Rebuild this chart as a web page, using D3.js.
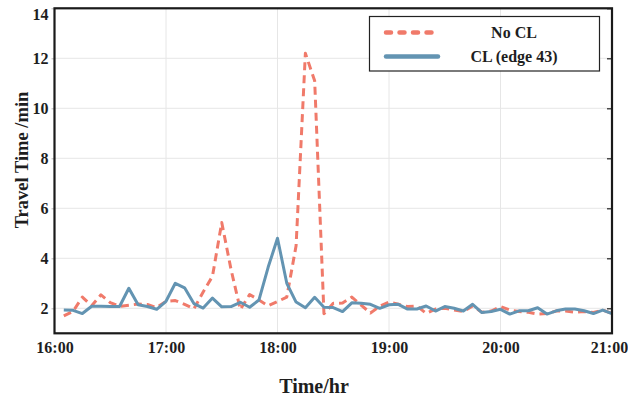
<!DOCTYPE html>
<html>
<head>
<meta charset="utf-8">
<script src="https://cdn.jsdelivr.net/npm/d3@7"></script>
<style>
  html, body { margin: 0; padding: 0; background: #fff; }
  svg { display: block; }
  text { font-family: "Liberation Serif", "Times New Roman", serif; font-weight: bold; fill: #1e1e1e; }
</style>
</head>
<body>
<svg id="chart" width="628" height="403"></svg>
<script>
// Sample times, every 5 minutes
const times = [
  "16:05","16:10","16:15","16:20","16:25","16:30","16:35","16:40","16:45","16:50","16:55","17:00",
  "17:05","17:10","17:15","17:20","17:25","17:30","17:35","17:40","17:45","17:50","17:55","18:00",
  "18:05","18:10","18:15","18:20","18:25","18:30","18:35","18:40","18:45","18:50","18:55","19:00",
  "19:05","19:10","19:15","19:20","19:25","19:30","19:35","19:40","19:45","19:50","19:55","20:00",
  "20:05","20:10","20:15","20:20","20:25","20:30","20:35","20:40","20:45","20:50","20:55","21:00"
];

// Travel time without control (minutes)
const noCL = [
  1.70, 1.88, 2.45, 2.10, 2.54, 2.23, 2.08, 2.12, 2.17, 2.15, 2.03, 2.28,
  2.31, 2.16, 1.98, 2.65, 3.28, 5.43, 3.55, 1.95, 2.55, 2.33, 2.10, 2.27,
  2.45, 4.50, 12.20, 11.10, 1.78, 2.20, 2.21, 2.45, 2.13, 1.81, 2.08, 2.25,
  2.16, 2.07, 2.09, 1.80, 1.97, 2.00, 1.93, 1.87, 2.09, 1.84, 1.89, 2.07,
  1.93, 1.87, 1.84, 1.77, 1.79, 1.89, 1.89, 1.84, 1.87, 1.83, 1.93, 1.79
];

// Travel time with control on edge 43 (minutes)
const withCL = [
  1.93, 1.92, 1.79, 2.08, 2.08, 2.07, 2.07, 2.80, 2.14, 2.07, 1.96, 2.28,
  3.00, 2.82, 2.19, 2.01, 2.41, 2.06, 2.07, 2.24, 2.04, 2.33, 3.65, 4.80,
  3.00, 2.25, 2.02, 2.44, 2.04, 2.03, 1.87, 2.22, 2.20, 2.16, 2.00, 2.14,
  2.16, 1.97, 1.97, 2.09, 1.89, 2.07, 2.00, 1.89, 2.16, 1.83, 1.87, 1.96,
  1.77, 1.90, 1.90, 2.02, 1.77, 1.90, 1.97, 1.97, 1.90, 1.79, 1.93, 1.79
];

const xTickLabels = ["16:00", "17:00", "18:00", "19:00", "20:00", "21:00"];
const yTickValues = [2, 4, 6, 8, 10, 12, 14];

const seriesNames = ["No CL", "CL (edge 43)"];
const seriesColors = ["#f07a6a", "#6394b2"];

const toMin = s => { const [h, m] = s.split(":").map(Number); return h * 60 + m; };

const svg = d3.select("#chart");
const W = 628, H = 403;
const x0 = 54.5, x1 = 612;
const y0 = 8.3, y1 = 333.3;

const x = d3.scaleLinear().domain([toMin("16:00"), toMin("21:00")]).range([x0, x1]);
const y = d3.scaleLinear().domain([1, 14]).range([y1, y0]);

// Grid
const grid = svg.append("g");
grid.selectAll("line.gx").data(xTickLabels).join("line")
  .attr("x1", d => x(toMin(d))).attr("x2", d => x(toMin(d)))
  .attr("y1", y0).attr("y2", y1)
  .attr("stroke", "#e6e6e6").attr("stroke-width", 1);
grid.selectAll("line.gy").data(yTickValues).join("line")
  .attr("x1", x0).attr("x2", x1)
  .attr("y1", d => y(d)).attr("y2", d => y(d))
  .attr("stroke", "#e6e6e6").attr("stroke-width", 1);

// Axes
const xMins = xTickLabels.map(toMin);
const xAxis = d3.axisBottom(x)
  .tickValues(xMins)
  .tickFormat(d => xTickLabels[xMins.indexOf(d)])
  .tickSize(0).tickPadding(8);
const gx = svg.append("g").attr("transform", `translate(0,${y1})`).call(xAxis);
gx.select(".domain").remove();
gx.selectAll("text").style("font-size", "16px").style("font-family", "'Liberation Serif', serif")
  .style("font-weight", "bold").attr("fill", "#1e1e1e");
// keep the last label inside the canvas
gx.selectAll(".tick").filter(d => d === xMins[xMins.length - 1]).select("text").attr("x", -3);

const yAxis = d3.axisLeft(y).tickValues(yTickValues).tickFormat(d3.format("d"))
  .tickSize(3).tickPadding(3);
const gy = svg.append("g").attr("transform", `translate(${x0},0)`).call(yAxis);
gy.select(".domain").remove();
gy.selectAll(".tick line").attr("stroke", "#bbb");
gy.selectAll("text").style("font-size", "16px").style("font-family", "'Liberation Serif', serif")
  .style("font-weight", "bold").attr("fill", "#1e1e1e");
// keep the top label inside the canvas
gy.selectAll(".tick").filter(d => d === 14).select("text").attr("dy", "0.32em").attr("y", 6);

// Inward ticks on the right edge
const yRight = d3.axisLeft(y).tickValues(yTickValues).tickFormat("").tickSize(5);
const gyr = svg.append("g").attr("transform", `translate(${x1},0)`).call(yRight);
gyr.select(".domain").remove();
gyr.selectAll(".tick line").attr("stroke", "#222").attr("stroke-width", 1.2);

// Series lines
const line = d3.line()
  .x((d, i) => x(toMin(times[i])))
  .y(d => y(d));

svg.append("clipPath").attr("id", "plotclip")
  .append("rect").attr("x", x0).attr("y", y0).attr("width", x1 - x0).attr("height", y1 - y0);

const plot = svg.append("g").attr("clip-path", "url(#plotclip)");
plot.append("path").datum(noCL)
  .attr("d", line).attr("fill", "none")
  .attr("stroke", seriesColors[0]).attr("stroke-width", 3)
  .attr("stroke-dasharray", "8,5").attr("stroke-linejoin", "round");
plot.append("path").datum(withCL)
  .attr("d", line).attr("fill", "none")
  .attr("stroke", seriesColors[1]).attr("stroke-width", 3)
  .attr("stroke-linejoin", "round");

// Frame
svg.append("rect").attr("x", x0).attr("y", y0).attr("width", x1 - x0).attr("height", y1 - y0)
  .attr("fill", "none").attr("stroke", "#1a1a1a").attr("stroke-width", 2.2);

// Legend
const lg = svg.append("g");
lg.append("rect").attr("x", 369.5).attr("y", 16.5).attr("width", 230).attr("height", 54.5)
  .attr("fill", "#fff").attr("stroke", "#222").attr("stroke-width", 1.2);
const legendRows = [
  { name: seriesNames[0], color: seriesColors[0], dash: "5,8.5", y: 32.5 },
  { name: seriesNames[1], color: seriesColors[1], dash: null, y: 56.5 }
];
legendRows.forEach(r => {
  lg.append("line").attr("x1", 386).attr("x2", 438).attr("y1", r.y).attr("y2", r.y)
    .attr("stroke", r.color).attr("stroke-width", 4.5).attr("stroke-linecap", "round")
    .attr("stroke-dasharray", r.dash);
  lg.append("text").attr("x", 514).attr("y", r.y + 5.5).attr("text-anchor", "middle")
    .style("font-size", "16px").text(r.name);
});

// Axis titles
svg.append("text").attr("x", 314).attr("y", 393).attr("text-anchor", "middle")
  .style("font-size", "20px").text("Time/hr");
svg.append("text").attr("transform", "translate(28,160) rotate(-90)")
  .attr("text-anchor", "middle").style("font-size", "18.5px").text("Travel Time /min");
</script>
</body>
</html>
